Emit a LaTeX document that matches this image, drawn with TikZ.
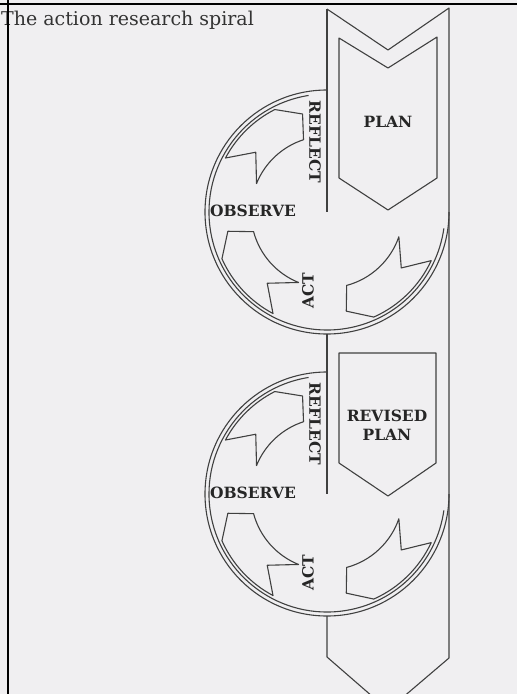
\documentclass[tikz,border=0pt]{standalone}
\usepackage{fontspec}
\setmainfont{DejaVu Serif}
\usetikzlibrary{positioning}

\definecolor{paper}{RGB}{240,239,241}
\tikzset{
  ink/.style={draw=black!75, line width=1.1pt, line join=round},
  lbl/.style={font=\bfseries\fontsize{15.5}{19}\selectfont, inner sep=0pt, text=black!85},
}
% curved chevron arrow round the loop centre: #1 tail angle, #2 head angle
\newcommand\cyclearrow[2]{%
  \pgfmathsetmacro\notchang{#1-18}
  \pgfmathsetmacro\outang{#1-6}
  \pgfmathsetmacro\headout{#2+13}
  \pgfmathsetmacro\headin{#2+4}
  \draw[ink] (#1:76) -- (\notchang:93) -- (\outang:115)
    arc[start angle=\outang, end angle=\headout, radius=115]
    -- (#2:101) -- (\headin:76)
    arc[start angle=\headin, end angle=#1, radius=76] -- cycle;
}

\begin{document}
\begin{tikzpicture}[x=1pt,y=1pt]
\useasboundingbox (0,-694) rectangle (517,0);
\fill[paper] (0,-694) rectangle (517,0);

\node[anchor=base west, inner sep=0pt, font=\fontsize{19}{22}\selectfont, text=black!80] (title) at (1,-25) {The action research spiral};

% the band
\draw[ink] (327,-9) -- (388,-50) -- (449,-8) -- (449,-658) -- (388,-710) -- (327,-657) -- (327,-616);
\draw[ink] (327,-9) -- (327,-212);
\draw[ink] (327,-334) -- (327,-494);

% plan chevrons
\draw[ink] (339,-38) -- (388,-68) -- (437,-37) -- (437,-178) -- (388,-210) -- (339,-178) -- cycle;
\draw[ink] (339,-353) -- (436,-353) -- (436,-463) -- (388,-496) -- (339,-463) -- cycle;
\node[lbl] (plan) at (388,-122) {PLAN};
\node[lbl, align=center] (revplan) at (387,-425) {REVISED\\PLAN};

% the two loops
\foreach \cy/\lp in {212/a, 494/b} {
  \begin{scope}[shift={(327,-\cy)}]
    \draw[ink] (90:122) arc[start angle=90, end angle=360, radius=122];
    \draw[ink] (99:118) arc[start angle=99, end angle=352, radius=118];
    \cyclearrow{158}{104}
    \cyclearrow{248}{191}
    \cyclearrow{341}{281}
    \node[lbl, rotate=-90] (reflect\lp) at (-12,70) {REFLECT};
    \node[lbl] (observe\lp) at (-74,1) {OBSERVE};
    \node[lbl, rotate=90] (act\lp) at (-19,-79) {ACT};
  \end{scope}
}

% frame of the page
\draw[line width=2pt] (0,-4) -- (517,-4);
\draw[line width=2pt] (7.5,0) -- (7.5,-694);
\end{tikzpicture}
\end{document}
